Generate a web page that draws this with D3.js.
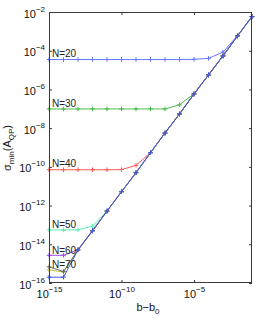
<!DOCTYPE html>
<html>
<head>
<meta charset="utf-8">
<script src="https://cdn.jsdelivr.net/npm/d3@7"></script>
<style>
  body { margin: 0; background: #fff; }
  svg { display: block; font-family: "Liberation Sans", Arial, sans-serif; }
</style>
</head>
<body>
<div id="chart"></div>
<script>
// b - b0 values (x), one point per decade
const xVals = [1e-15, 1e-14, 1e-13, 1e-12, 1e-11, 1e-10, 1e-9, 1e-8, 1e-7, 1e-6, 1e-5, 1e-4, 1e-3, 1e-2, 1e-1];

// sigma_min(A_QP) for each N
const n20 = [3.5e-5, 3.5e-5, 3.5e-5, 3.5e-5, 3.5e-5, 3.5e-5, 3.5e-5, 3.5e-5, 3.5e-5, 3.5e-5, 3.6e-5, 4.0e-5, 8.5e-5, 6.0e-4, 5.8e-3];
const n30 = [9.8e-8, 9.8e-8, 9.8e-8, 9.8e-8, 9.8e-8, 9.8e-8, 9.8e-8, 9.8e-8, 9.8e-8, 1.6e-7, 6.0e-7, 5.6e-6, 5.4e-5, 5.8e-4, 5.8e-3];
const n40 = [7.1e-11, 7.1e-11, 7.1e-11, 7.1e-11, 7.1e-11, 7.2e-11, 1.2e-10, 5.4e-10, 5.6e-9, 5.4e-8, 5.8e-7, 5.6e-6, 5.4e-5, 5.8e-4, 5.8e-3];
const n50 = [5.5e-14, 5.5e-14, 5.6e-14, 8.7e-14, 5.2e-13, 5.2e-12, 5.0e-11, 5.4e-10, 5.6e-9, 5.4e-8, 5.8e-7, 5.6e-6, 5.4e-5, 5.8e-4, 5.8e-3];
const n60 = [2.7e-15, 2.7e-15, 5.3e-15, 5.2e-14, 5.2e-13, 5.2e-12, 5.0e-11, 5.4e-10, 5.6e-9, 5.4e-8, 5.8e-7, 5.6e-6, 5.4e-5, 5.8e-4, 5.8e-3];
const n70 = [4.7e-16, 3.7e-16, 5.2e-15, 4.9e-14, 5.2e-13, 5.2e-12, 5.0e-11, 5.4e-10, 5.6e-9, 5.4e-8, 5.8e-7, 5.6e-6, 5.4e-5, 5.8e-4, 5.8e-3];
const n80 = [6.8e-16, 3.9e-16, 5.1e-15, 4.9e-14, 5.2e-13, 5.2e-12, 5.0e-11, 5.4e-10, 5.6e-9, 5.4e-8, 5.8e-7, 5.6e-6, 5.4e-5, 5.8e-4, 5.8e-3];
const n90 = [2.0e-16, 2.0e-16, 5.1e-15, 4.9e-14, 5.2e-13, 5.2e-12, 5.0e-11, 5.4e-10, 5.6e-9, 5.4e-8, 5.8e-7, 5.6e-6, 5.4e-5, 5.8e-4, 5.8e-3];

const seriesList = [n20, n30, n40, n50, n60, n70, n80, n90];
const colors = ['#6678ff', '#4cbb4c', '#ff5a5a', '#5cefbc', '#9b4cf0', '#c2c23c', '#666666', '#4658dc'];

// curve labels
const labelText = ['N=20', 'N=30', 'N=40', 'N=50', 'N=60', 'N=70'];
const labelX = 1.6e-15;
const labelY = [4.6e-5, 1.3e-7, 9.5e-11, 6.8e-14, 3.2e-15, 5.8e-16];

// ticks
const xTicks = [1e-15, 1e-10, 1e-5];
const xTickExp = ['−15', '−10', '−5'];
const yTicks = [1e-16, 1e-14, 1e-12, 1e-10, 1e-8, 1e-6, 1e-4, 1e-2];
const yTickExp = ['−16', '−14', '−12', '−10', '−8', '−6', '−4', '−2'];

const width = 257, height = 319;
const margin = { left: 49, right: 5, top: 12, bottom: 36 };

const svg = d3.select('#chart').append('svg')
    .attr('width', width)
    .attr('height', height);

const x = d3.scaleLog().domain([1e-15, 1e-1]).range([margin.left, width - margin.right]);
const y = d3.scaleLog().domain([1e-16, 1e-2]).range([height - margin.bottom, margin.top]);

const line = d3.line()
    .x((d, i) => x(xVals[i]))
    .y(d => y(d));

// curves, drawn in order so the last one ends up on top
seriesList.forEach((s, k) => {
    const g = svg.append('g');
    g.append('path')
     .attr('d', line(s))
     .attr('fill', 'none')
     .attr('stroke', colors[k])
     .attr('stroke-width', 1);

    g.selectAll('.mark')
     .data(s)
     .enter()
     .append('path')
     .attr('class', 'mark')
     .attr('d', (d, i) => {
         const cx = x(xVals[i]), cy = y(d);
         return `M${cx - 2.3},${cy}H${cx + 2.3}M${cx},${cy - 2.3}V${cy + 2.3}`;
     })
     .attr('stroke', colors[k])
     .attr('stroke-width', 1);
});

// labels
svg.selectAll('.nlab')
   .data(labelText)
   .enter()
   .append('text')
   .attr('class', 'nlab')
   .attr('x', x(labelX))
   .attr('y', (d, i) => y(labelY[i]))
   .attr('font-size', 10)
   .attr('fill', '#222')
   .text(d => d);

// box
const x0 = x.range()[0], x1 = x.range()[1];
const y0 = y.range()[0], y1 = y.range()[1];
svg.append('rect')
   .attr('x', x0 + 0.5).attr('y', y1 + 0.5)
   .attr('width', x1 - x0 - 1).attr('height', y0 - y1 - 1)
   .attr('fill', 'none')
   .attr('stroke', '#3a3a3a')
   .attr('stroke-width', 1);

// axes: inward ticks on all four sides
function styleAxis(g) {
    g.select('.domain').remove();
    g.selectAll('.tick line').attr('stroke', '#3a3a3a');
}

const gx = svg.append('g')
    .attr('transform', `translate(0,${y0})`)
    .call(d3.axisBottom(x).tickValues(xTicks).tickSize(-3).tickFormat(''))
    .call(styleAxis);
svg.append('g')
    .attr('transform', `translate(0,${y1})`)
    .call(d3.axisTop(x).tickValues(xTicks).tickSize(-3).tickFormat(''))
    .call(styleAxis);
const gy = svg.append('g')
    .attr('transform', `translate(${x0},0)`)
    .call(d3.axisLeft(y).tickValues(yTicks).tickSize(-3).tickFormat(''))
    .call(styleAxis);
svg.append('g')
    .attr('transform', `translate(${x1},0)`)
    .call(d3.axisRight(y).tickValues(yTicks).tickSize(-3).tickFormat(''))
    .call(styleAxis);

// power-of-ten tick labels
gx.selectAll('.tick').each(function(d, i) {
    const t = d3.select(this).append('text')
        .attr('y', 15)
        .attr('text-anchor', 'middle')
        .attr('fill', '#111')
        .attr('font-size', 11);
    t.append('tspan').text('10');
    t.append('tspan').attr('dy', -6).attr('font-size', 8).text(xTickExp[i]);
});

gy.selectAll('.tick').each(function(d, i) {
    const t = d3.select(this).append('text')
        .attr('x', -4)
        .attr('y', 5)
        .attr('text-anchor', 'end')
        .attr('fill', '#111')
        .attr('font-size', 11);
    t.append('tspan').text('10');
    t.append('tspan').attr('dy', -6).attr('font-size', 8).text(yTickExp[i]);
});

// axis titles
const xt = svg.append('text')
    .attr('x', 148)
    .attr('y', 311)
    .attr('text-anchor', 'middle')
    .attr('font-size', 11)
    .attr('fill', '#111');
xt.append('tspan').text('b−b');
xt.append('tspan').attr('dy', 3).attr('font-size', 8).text('0');

const yt = svg.append('text')
    .attr('transform', 'translate(11,148) rotate(-90)')
    .attr('text-anchor', 'middle')
    .attr('font-size', 11)
    .attr('fill', '#111');
yt.append('tspan').text('σ');
yt.append('tspan').attr('dy', 3).attr('font-size', 8).text('min');
yt.append('tspan').attr('dy', -3).text('(A');
yt.append('tspan').attr('dy', 3).attr('font-size', 8).text('QP');
yt.append('tspan').attr('dy', -3).text(')');
</script>
</body>
</html>
